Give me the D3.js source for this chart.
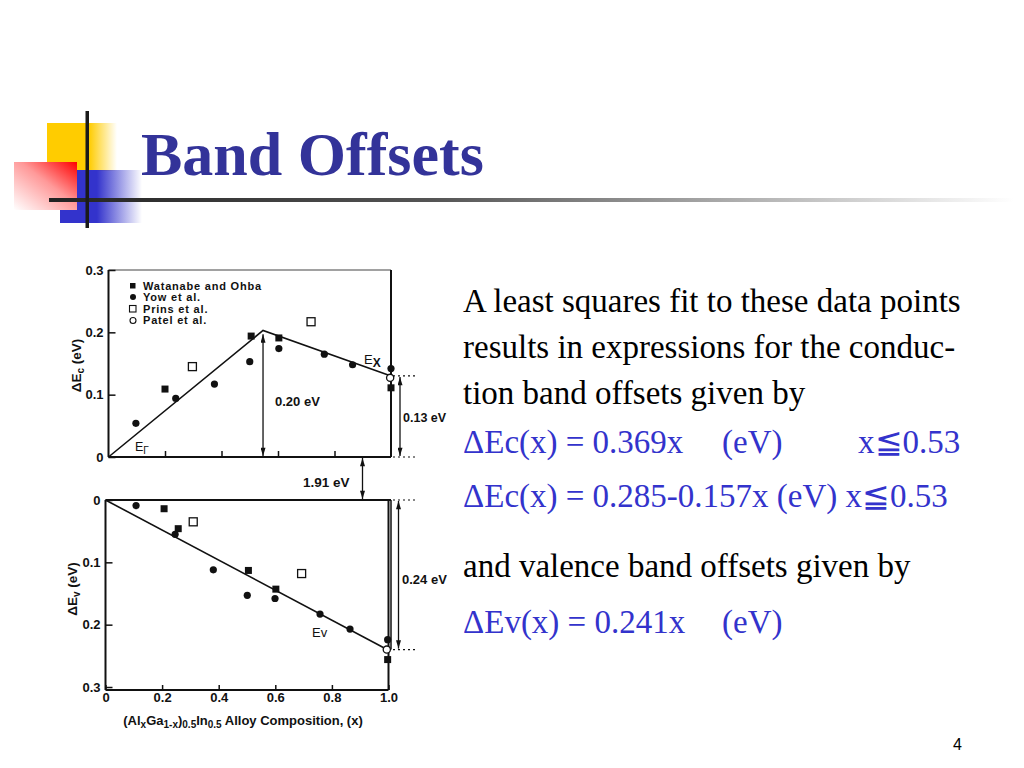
<!DOCTYPE html>
<html>
<head>
<meta charset="utf-8">
<script src="https://cdn.jsdelivr.net/npm/d3@7"></script>
<style>
  html, body { margin: 0; padding: 0; background: #fff; }
  svg { display: block; }
  .chart text { font-family: "Liberation Sans", Arial, sans-serif; font-weight: bold; font-size: 12.5px; fill: #111; }
  .axis path { display: none; }
  .axis line { stroke: #111; stroke-width: 1.5; }
</style>
</head>
<body>
<svg id="slide" width="1024" height="768"></svg>
<script>
// ---------------- DATA ----------------
const legendLabels = ["Watanabe and Ohba", "Yow et al.", "Prins et al.", "Patel et al."];
const xTickValues = [0, 0.2, 0.4, 0.6, 0.8, 1.0];
const xTickLabels = ["0", "0.2", "0.4", "0.6", "0.8", "1.0"];
const yTickValues = [0, 0.1, 0.2, 0.3];
const yTickLabels = ["0", "0.1", "0.2", "0.3"];

// Conduction band offsets ΔEc (x, eV)
const ecWatanabe = [[0.20, 0.109], [0.505, 0.194], [0.603, 0.191], [1.0, 0.111]];
const ecYow = [[0.097, 0.054], [0.238, 0.094], [0.375, 0.117], [0.50, 0.153], [0.603, 0.174], [0.764, 0.165], [0.864, 0.148], [1.0, 0.142]];
const ecPrins = [[0.297, 0.145], [0.717, 0.217]];
const ecPatel = [[0.997, 0.127]];
const ecFit = [[0, 0], [0.547, 0.203], [1.0, 0.13]];

// Valence band offsets ΔEv (x, eV)
const evWatanabe = [[0.207, 0.014], [0.257, 0.046], [0.505, 0.113], [0.602, 0.143], [0.997, 0.256]];
const evYow = [[0.108, 0.009], [0.246, 0.055], [0.381, 0.112], [0.501, 0.153], [0.599, 0.158], [0.758, 0.183], [0.864, 0.207], [0.997, 0.224]];
const evPrins = [[0.31, 0.035], [0.693, 0.118]];
const evPatel = [[0.994, 0.240]];
const evFit = [[0, 0], [1.0, 0.241]];

const ecPeak = 0.20, ecEnd = 0.13, evEnd = 0.24;
const textLines = ["A least squares fit to these data points", "results in expressions for the conduc-", "tion band offsets given by"];

// ---------------- SLIDE ----------------
const svg = d3.select("#slide");
const defs = svg.append("defs");

function lg(id, stops, x1, y1, x2, y2) {
  const g = defs.append("linearGradient").attr("id", id)
    .attr("x1", x1).attr("y1", y1).attr("x2", x2).attr("y2", y2);
  stops.forEach(s => g.append("stop").attr("offset", s[0]).attr("stop-color", s[1]).attr("stop-opacity", s[2] == null ? 1 : s[2]));
}
lg("gYellow", [[0, "#FFCC00"], [0.6, "#FFCC00"], [1, "#FFCC00", 0]], "0", "0", "1", "0");
lg("gBlue", [[0, "#3333CC"], [0.45, "#3333CC"], [1, "#3333CC", 0]], "0", "0", "1", "0");
lg("gRed", [[0, "#FFFFFF"], [0.55, "#FF9999"], [1, "#FF0000"]], "0", "1", "1", "0");
lg("gLine", [[0, "#222"], [0.4, "#555"], [1, "#fff"]], "0", "0", "1", "0");

svg.append("rect").attr("x", 47).attr("y", 123).attr("width", 70).attr("height", 48).attr("fill", "url(#gYellow)");
svg.append("rect").attr("x", 60).attr("y", 170).attr("width", 82).attr("height", 53).attr("fill", "url(#gBlue)");
svg.append("rect").attr("x", 14).attr("y", 162).attr("width", 63).attr("height", 48).attr("fill", "url(#gRed)");
svg.append("rect").attr("x", 49).attr("y", 198).attr("width", 965).attr("height", 4).attr("fill", "url(#gLine)");
svg.append("rect").attr("x", 85.5).attr("y", 111).attr("width", 3.5).attr("height", 117).attr("fill", "#1a1a1a");

svg.append("text").attr("x", 141).attr("y", 175)
  .style("font-family", "'Liberation Serif', 'Times New Roman', serif")
  .style("font-weight", "bold").style("font-size", "62px").style("fill", "#333399")
  .text("Band Offsets");

// right-hand text
const serif = "'Liberation Serif', 'Times New Roman', serif";
const tBlack = svg.append("g").style("font-family", serif).style("font-size", "33px").style("fill", "#000");
textLines.forEach((t, i) => tBlack.append("text").attr("x", 463).attr("y", [312, 358, 404][i]).text(t));
tBlack.append("text").attr("x", 463).attr("y", 577).text("and valence band offsets given by");

const tBlue = svg.append("g").style("font-family", serif).style("font-size", "33px").style("fill", "#3333CC");
const l1 = tBlue.append("text").attr("y", 453);
l1.append("tspan").attr("x", 463).text("\u0394Ec(x) = 0.369x");
l1.append("tspan").attr("x", 722).text("(eV)");
l1.append("tspan").attr("x", 858).text("x\u22660.53");
tBlue.append("text").attr("x", 463).attr("y", 507).text("\u0394Ec(x) = 0.285-0.157x (eV) x\u22660.53");
const l3 = tBlue.append("text").attr("y", 633);
l3.append("tspan").attr("x", 463).text("\u0394Ev(x) = 0.241x");
l3.append("tspan").attr("x", 722).text("(eV)");

svg.append("text").attr("x", 953).attr("y", 750)
  .style("font-family", "'Liberation Sans', Arial, sans-serif").style("font-size", "16px").text("4");

// ---------------- CHART ----------------
const chart = svg.append("g").attr("class", "chart");

function marker(id, d) {
  defs.append("marker").attr("id", id).attr("viewBox", "0 0 6 10").attr("refX", 3).attr("refY", d === "up" ? 0 : 10)
    .attr("markerWidth", 5).attr("markerHeight", 9).attr("markerUnits", "userSpaceOnUse").attr("orient", "0")
    .append("path").attr("d", d === "up" ? "M0,10 L3,0 L6,10 Z" : "M0,0 L3,10 L6,0 Z").attr("fill", "#111");
}
marker("aUp", "up"); marker("aDown", "down");

const xTop = d3.scaleLinear().domain([0, 1]).range([108.5, 391]);
const yTop = d3.scaleLinear().domain([0, 0.3]).range([457, 270]);
const xBot = d3.scaleLinear().domain([0, 1]).range([105.5, 388.5]);
const yBot = d3.scaleLinear().domain([0, 0.3]).range([500, 687]);
const botFrameY = 690;
const tickFont = sel => sel.selectAll("text").style("font-family", "'Liberation Sans', Arial, sans-serif")
  .style("font-size", "13px").style("font-weight", "bold").attr("fill", "#111");

// Top frame
chart.append("line").attr("x1", xTop(0)).attr("x2", xTop(1)).attr("y1", yTop(0.3)).attr("y2", yTop(0.3))
  .attr("stroke", "#444").attr("stroke-width", 1.2);
chart.append("line").attr("x1", xTop(0)).attr("x2", xTop(0)).attr("y1", yTop(0.3)).attr("y2", yTop(0)).attr("stroke", "#111").attr("stroke-width", 2);
chart.append("line").attr("x1", xTop(0)).attr("x2", xTop(1)).attr("y1", yTop(0)).attr("y2", yTop(0)).attr("stroke", "#111").attr("stroke-width", 2);
chart.append("line").attr("x1", xTop(1)).attr("x2", xTop(1)).attr("y1", yTop(0.3)).attr("y2", yTop(0)).attr("stroke", "#111").attr("stroke-width", 2);

// Top axes
chart.append("g").attr("class", "axis").attr("transform", `translate(${xTop(0)},0)`)
  .call(d3.axisLeft(yTop).tickValues(yTickValues).tickFormat((d, i) => yTickLabels[i]).tickSizeInner(-7).tickSizeOuter(0).tickPadding(5))
  .call(tickFont);
chart.append("g").attr("class", "axis").attr("transform", `translate(0,${yTop(0)})`)
  .call(d3.axisBottom(xTop).tickValues([0.2, 0.4, 0.6, 0.8]).tickFormat("").tickSizeInner(-6).tickSizeOuter(0));

// Bottom frame
chart.append("line").attr("x1", xBot(0)).attr("x2", xTop(1)).attr("y1", yBot(0)).attr("y2", yBot(0)).attr("stroke", "#111").attr("stroke-width", 2);
chart.append("line").attr("x1", xBot(0)).attr("x2", xBot(0)).attr("y1", yBot(0)).attr("y2", botFrameY).attr("stroke", "#111").attr("stroke-width", 2);
chart.append("line").attr("x1", xBot(0)).attr("x2", xBot(1)).attr("y1", botFrameY).attr("y2", botFrameY).attr("stroke", "#111").attr("stroke-width", 2);
chart.append("line").attr("x1", xBot(1)).attr("x2", xBot(1)).attr("y1", yBot(0)).attr("y2", botFrameY).attr("stroke", "#111").attr("stroke-width", 2);
chart.append("line").attr("x1", xTop(1)).attr("x2", xTop(1)).attr("y1", yBot(0)).attr("y2", yBot(evEnd)).attr("stroke", "#111").attr("stroke-width", 1.5);

chart.append("g").attr("class", "axis").attr("transform", `translate(${xBot(0)},0)`)
  .call(d3.axisLeft(yBot).tickValues(yTickValues).tickFormat((d, i) => yTickLabels[i]).tickSizeInner(-7).tickSizeOuter(0).tickPadding(5))
  .call(tickFont);
chart.append("g").attr("class", "axis").attr("transform", `translate(0,${botFrameY})`)
  .call(d3.axisBottom(xBot).tickValues(xTickValues).tickFormat((d, i) => xTickLabels[i]).tickSizeInner(-5).tickSizeOuter(0).tickPadding(3))
  .call(tickFont);

// Axis titles
const ttlT = chart.append("text").attr("transform", `translate(81,${(yTop(0) + yTop(0.3)) / 2 + 2}) rotate(-90)`).attr("text-anchor", "middle").style("font-size", "13.5px");
ttlT.append("tspan").text("\u0394E");
ttlT.append("tspan").attr("dy", 3).style("font-size", "10px").text("c");
ttlT.append("tspan").attr("dy", -3).text(" (eV)");
const ttlB = chart.append("text").attr("transform", `translate(77,${(yBot(0) + botFrameY) / 2 - 6}) rotate(-90)`).attr("text-anchor", "middle").style("font-size", "13.5px");
ttlB.append("tspan").text("\u0394E");
ttlB.append("tspan").attr("dy", 3).style("font-size", "10px").text("v");
ttlB.append("tspan").attr("dy", -3).text(" (eV)");

const xt = chart.append("text").attr("x", 243).attr("y", 725).attr("text-anchor", "middle").style("font-size", "13px");
[["(Al", 0], ["x", 1], ["Ga", 0], ["1-x", 1], [")", 0], ["0.5", 1], ["In", 0], ["0.5", 1], [" Alloy Composition, (x)", 0]].forEach((p, i, arr) => {
  const prevSub = i > 0 ? arr[i - 1][1] : 0;
  xt.append("tspan").attr("dy", p[1] === prevSub ? 0 : (p[1] ? 3 : -3)).style("font-size", p[1] ? "10px" : null).text(p[0]);
});

// Fit lines
const lineT = d3.line().x(d => xTop(d[0])).y(d => yTop(d[1]));
const lineB = d3.line().x(d => xBot(d[0])).y(d => yBot(d[1]));
chart.append("path").attr("d", lineT(ecFit)).attr("fill", "none").attr("stroke", "#111").attr("stroke-width", 1.6);
chart.append("path").attr("d", lineB(evFit)).attr("fill", "none").attr("stroke", "#111").attr("stroke-width", 1.6);

// Points
function drawPoints(data, xs, ys, type) {
  const g = chart.append("g");
  if (type === "fsq" || type === "osq") {
    const s = type === "fsq" ? 7 : 8;
    g.selectAll("rect").data(data).join("rect")
      .attr("x", d => xs(d[0]) - s / 2).attr("y", d => ys(d[1]) - s / 2).attr("width", s).attr("height", s)
      .attr("fill", type === "fsq" ? "#111" : "#fff").attr("stroke", "#111").attr("stroke-width", type === "fsq" ? 0 : 1.3);
  } else {
    g.selectAll("circle").data(data).join("circle")
      .attr("cx", d => xs(d[0])).attr("cy", d => ys(d[1])).attr("r", 3.6)
      .attr("fill", type === "fci" ? "#111" : "#fff").attr("stroke", "#111").attr("stroke-width", type === "fci" ? 0 : 1.3);
  }
}
drawPoints(ecYow, xTop, yTop, "fci");
drawPoints(ecWatanabe, xTop, yTop, "fsq");
drawPoints(ecPrins, xTop, yTop, "osq");
drawPoints(ecPatel, xTop, yTop, "oci");
drawPoints(evYow, xBot, yBot, "fci");
drawPoints(evWatanabe, xBot, yBot, "fsq");
drawPoints(evPrins, xBot, yBot, "osq");
drawPoints(evPatel, xBot, yBot, "oci");

// Legend
const legTypes = ["fsq", "fci", "osq", "oci"];
const leg = chart.append("g");
legendLabels.forEach((lab, i) => {
  const y = 285.5 + i * 11.5;
  if (legTypes[i] === "fsq") leg.append("rect").attr("x", 130).attr("y", y - 2.5).attr("width", 5.5).attr("height", 5.5).attr("fill", "#111");
  if (legTypes[i] === "fci") leg.append("circle").attr("cx", 133).attr("cy", y).attr("r", 3).attr("fill", "#111");
  if (legTypes[i] === "osq") leg.append("rect").attr("x", 129.5).attr("y", y - 3).attr("width", 6.5).attr("height", 6.5).attr("fill", "#fff").attr("stroke", "#111").attr("stroke-width", 1.1);
  if (legTypes[i] === "oci") leg.append("circle").attr("cx", 133).attr("cy", y + 0.5).attr("r", 3).attr("fill", "#fff").attr("stroke", "#111").attr("stroke-width", 1.1);
  leg.append("text").attr("x", 143).attr("y", y + 4).style("font-size", "11px").style("letter-spacing", "0.8px").text(lab);
});

// Annotations / arrows
function vArrow(x, y1, y2) {
  chart.append("line").attr("x1", x).attr("x2", x).attr("y1", y1).attr("y2", y2)
    .attr("stroke", "#111").attr("stroke-width", 1.3)
    .attr("marker-start", "url(#aUp)").attr("marker-end", "url(#aDown)");
}
vArrow(xTop(0.547), yTop(ecPeak) + 2, yTop(0) - 1);
chart.append("text").attr("x", 275).attr("y", 406).style("font-size", "13px").text("0.20 eV");

vArrow(400, yTop(ecEnd) + 1, yTop(0) - 1);
chart.append("text").attr("x", 403).attr("y", 422).style("font-size", "12.5px").text("0.13 eV");
[ecEnd, 0].forEach(v => chart.append("line").attr("x1", xTop(1) + 2).attr("x2", 416).attr("y1", yTop(v)).attr("y2", yTop(v))
  .attr("stroke", "#111").attr("stroke-width", 1.2).attr("stroke-dasharray", "2,3"));

vArrow(362.5, yTop(0) + 1, yBot(0) - 1);
chart.append("text").attr("x", 303).attr("y", 487).style("font-size", "13.5px").text("1.91 eV");

vArrow(398.5, yBot(0) + 1, yBot(evEnd) - 1);
chart.append("text").attr("x", 402).attr("y", 584).style("font-size", "13px").text("0.24 eV");
[0, evEnd].forEach(v => chart.append("line").attr("x1", xTop(1) + 2).attr("x2", 416).attr("y1", yBot(v)).attr("y2", yBot(v))
  .attr("stroke", "#111").attr("stroke-width", 1.2).attr("stroke-dasharray", "2,3"));

// band labels
const eG = chart.append("text").attr("x", 135).attr("y", 451).style("font-weight", "normal").style("font-size", "12.5px");
eG.append("tspan").text("E");
eG.append("tspan").attr("dy", 3).style("font-size", "10px").text("\u0393");
const eX = chart.append("text").attr("x", 364).attr("y", 364).style("font-weight", "normal").style("font-size", "13px");
eX.append("tspan").text("E");
eX.append("tspan").attr("dy", 3).style("font-size", "12px").style("font-weight", "bold").text("X");
chart.append("text").attr("x", 312).attr("y", 637).style("font-weight", "normal").style("font-size", "13px").text("Ev");
</script>
</body>
</html>
